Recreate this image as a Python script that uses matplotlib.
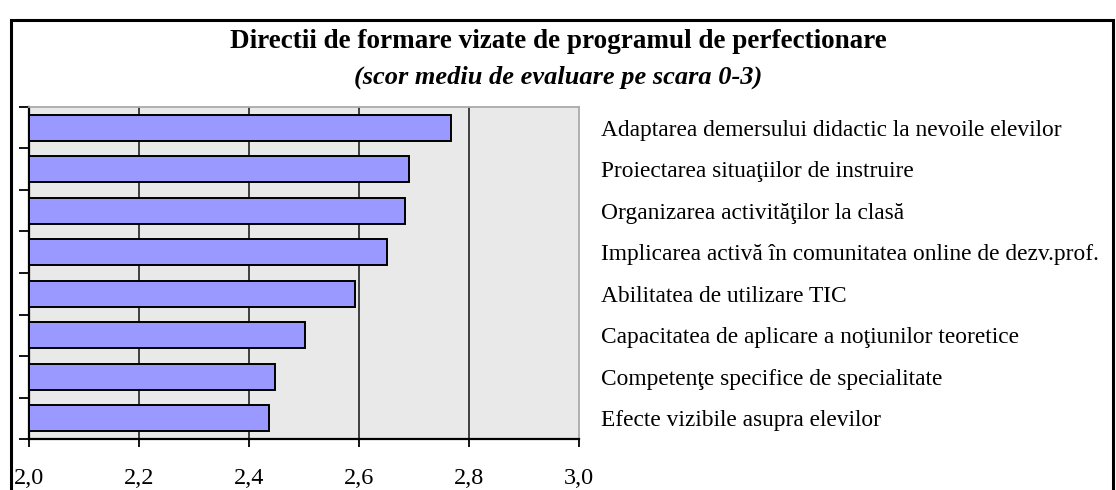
import matplotlib
matplotlib.use("Agg")
import matplotlib.pyplot as plt
from matplotlib.patches import Rectangle
import numpy as np

categories = [
    "Adaptarea demersului didactic la nevoile elevilor",
    "Proiectarea situaţiilor de instruire",
    "Organizarea activităţilor la clasă",
    "Implicarea activă în comunitatea online de dezv.prof.",
    "Abilitatea de utilizare TIC",
    "Capacitatea de aplicare a noţiunilor teoretice",
    "Competenţe specifice de specialitate",
    "Efecte vizibile asupra elevilor",
]
values = [2.768, 2.691, 2.683, 2.651, 2.592, 2.501, 2.447, 2.436]
xticks = [2.0, 2.2, 2.4, 2.6, 2.8, 3.0]
xticklabels = ["2,0", "2,2", "2,4", "2,6", "2,8", "3,0"]

plt.rcParams['font.family'] = ['Liberation Serif', 'DejaVu Serif']

fig = plt.figure(figsize=(11.16, 4.9), dpi=100)
ax = fig.add_axes([29/1116, 1-439/490, (579-29)/1116, (439-107)/490])
ax.set_facecolor('#E9E9E9')

y = np.arange(len(categories))
ax.barh(y, [v - 2.0 for v in values], left=2.0, height=0.63,
        color='#9999FF', edgecolor='black', linewidth=1.4, zorder=3)

ax.set_xlim(2.0, 3.0)
ax.set_ylim(len(categories) - 0.5, -0.5)
ax.set_xticks(xticks)
ax.set_xticklabels(xticklabels, fontsize=17.5)
for gx in xticks[1:-1]:
    ax.axvline(gx, color='#111111', linewidth=1.1, zorder=1)

ax.set_yticks(y)
ax.set_yticklabels(categories, fontsize=16.8)
ax.set_yticks(np.arange(len(categories) + 1) - 0.5, minor=True)
ax.tick_params(axis='y', which='major', left=False, right=False,
               labelleft=False, labelright=True, pad=12)
ax.tick_params(axis='y', which='minor', left=True, right=False,
               direction='out', length=7, width=1.3)
ax.tick_params(axis='x', which='major', direction='out', length=6, width=1.3, pad=15)

ax.spines['left'].set_linewidth(1.6)
ax.spines['bottom'].set_linewidth(1.6)
ax.spines['top'].set_color('#AAAAAA')
ax.spines['right'].set_color('#AAAAAA')
ax.spines['top'].set_linewidth(1.3)
ax.spines['right'].set_linewidth(1.3)

fig.text(0.5, 1-42/490, "Directii de formare vizate de programul de perfectionare",
         ha='center', va='center', fontsize=19.5, fontweight='bold')
fig.text(0.5, 1-77/490, "(scor mediu de evaluare pe scara 0-3)",
         ha='center', va='center', fontsize=19, fontweight='bold', style='italic')

border = Rectangle((11/1116, -0.02), 1 - 11/1116 - 3/1116, 1 - 20/490 + 0.02,
                   transform=fig.transFigure, fill=False, edgecolor='black',
                   linewidth=2.2)
fig.patches.append(border)

fig.savefig("out.png", dpi=100)
